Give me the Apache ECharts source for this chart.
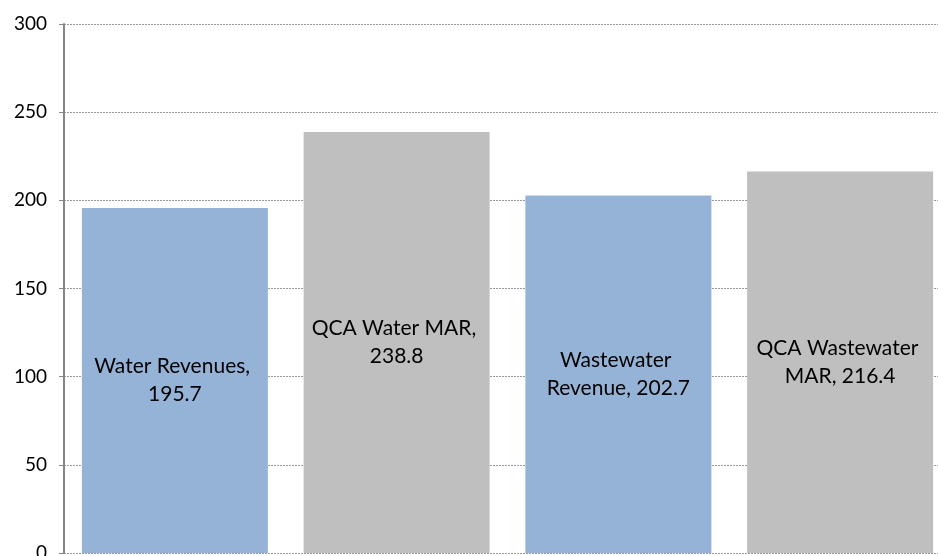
<!DOCTYPE html>
<html>
<head>
<meta charset="utf-8">
<script src="https://cdn.jsdelivr.net/npm/echarts@6/dist/echarts.min.js"></script>
<style>
    html, body { margin: 0; padding: 0; background: #fff; }
    #chart { width: 938px; height: 556px; }
</style>
</head>
<body>
<div id="chart"></div>
<script>
// 数据
var categories = ['Water Revenues', 'QCA Water MAR', 'Wastewater Revenue', 'QCA Wastewater MAR'];
var values = [195.7, 238.8, 202.7, 216.4];
var barColors = ['#95B3D7', '#BFBFBF', '#95B3D7', '#BFBFBF'];
var yTicks = [0, 50, 100, 150, 200, 250, 300];

var chart = echarts.init(document.getElementById('chart'));
chart.setOption({
    animation: false,
    textStyle: { fontFamily: 'Lato' },
    // 右侧被裁掉一部分，所以宽度超出画布
    grid: {
        left: 64,
        width: 887,
        top: 24,
        bottom: 3,
        containLabel: false,
        outerBoundsMode: 'none'
    },
    xAxis: {
        type: 'category',
        data: categories,
        axisLine: { show: false },
        axisTick: { show: false },
        axisLabel: { show: false }
    },
    yAxis: {
        type: 'value',
        min: yTicks[0],
        max: yTicks[yTicks.length - 1],
        interval: 50,
        axisLine: { show: true, lineStyle: { color: '#868686', width: 2 } },
        axisTick: { show: true, length: 5, lineStyle: { color: '#868686', width: 1 } },
        axisLabel: { color: '#000', fontSize: 19, margin: 17 },
        splitLine: { lineStyle: { color: '#9a9a9a', width: 1, type: [2, 1] } }
    },
    series: [
        {
            type: 'bar',
            barWidth: 186,
            data: values.map(function (v, i) {
                return { value: v, itemStyle: { color: barColors[i] } };
            }),
            label: {
                show: true,
                position: 'inside',
                color: '#000',
                fontSize: 21,
                lineHeight: 28,
                width: 175,
                overflow: 'break',
                align: 'center',
                formatter: function (p) {
                    return p.name + ', ' + p.value;
                }
            }
        }
    ]
});
</script>
</body>
</html>
